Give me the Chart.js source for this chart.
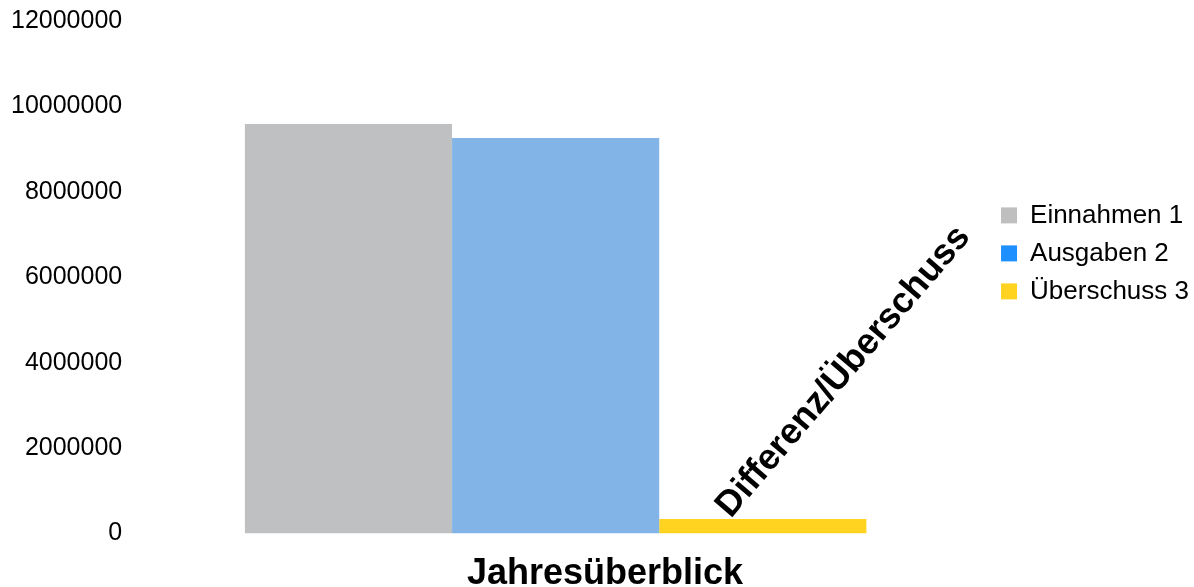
<!DOCTYPE html>
<html>
<head>
<meta charset="utf-8">
<script src="https://cdn.jsdelivr.net/npm/chart.js@4.4.1/dist/chart.umd.min.js"></script>
<style>
  html, body { margin: 0; padding: 0; background: #fff; }
  #wrap { width: 1194px; height: 587px; }
</style>
</head>
<body>
<div id="wrap"><canvas id="jahresChart"></canvas></div>
<script>
const categories = ["Jahresüberblick"];
const seriesNames = ["Einnahmen 1", "Ausgaben 2", "Überschuss 3"];
const einnahmen = [9590000];
const ausgaben = [9260000];
const ueberschuss = [340000];
const yMin = 0;
const yMax = 12000000;
const yStep = 2000000;
const diffText = "Differenz/Überschuss";

const barColors = ["#bfc0c2", "#83b4e8", "#ffd320"];
const legendColors = ["#bfbfbf", "#1e8fff", "#ffd320"];

Chart.defaults.font.family = '"Liberation Sans", Arial, sans-serif';
Chart.defaults.color = "#000";

// rotated label sitting on the surplus bar
const diffLabel = {
  id: "diffLabel",
  afterDatasetsDraw(chart) {
    const bar = chart.getDatasetMeta(2).data[0];
    if (!bar) return;
    const c = chart.ctx;
    c.save();
    c.translate(bar.x - 32, bar.y);
    c.rotate((-49.5 * Math.PI) / 180);
    c.font = 'bold 36px "Liberation Sans", Arial, sans-serif';
    c.fillStyle = "#000";
    c.textAlign = "left";
    c.textBaseline = "alphabetic";
    c.fillText(diffText, 0, 0);
    c.restore();
  },
};

const ctx = document.getElementById("jahresChart").getContext("2d");

new Chart(ctx, {
  type: "bar",
  data: {
    labels: categories,
    datasets: [
      { label: seriesNames[0], data: einnahmen, backgroundColor: barColors[0] },
      { label: seriesNames[1], data: ausgaben, backgroundColor: barColors[1] },
      { label: seriesNames[2], data: ueberschuss, backgroundColor: barColors[2] },
    ],
  },
  options: {
    responsive: true,
    maintainAspectRatio: false,
    animation: false,
    datasets: {
      bar: { categoryPercentage: 0.717, barPercentage: 1.0, borderWidth: 0 },
    },
    layout: { padding: { left: 11, right: -5, top: 21, bottom: 0 } },
    plugins: {
      legend: {
        position: "right",
        align: "start",
        title: { display: true, text: "", padding: { top: 0, bottom: 155 } },
        labels: {
          boxWidth: 16,
          boxHeight: 16,
          padding: 12,
          color: "#000",
          font: { size: 26 },
          generateLabels: (chart) =>
            chart.data.datasets.map((ds, i) => ({
              text: ds.label,
              fillStyle: legendColors[i],
              strokeStyle: legendColors[i],
              lineWidth: 0,
              hidden: false,
              datasetIndex: i,
            })),
        },
      },
      title: {
        display: true,
        text: categories[0],
        position: "bottom",
        color: "#000",
        font: { size: 36, weight: "bold", lineHeight: 1 },
        padding: { top: 22.5, bottom: -5 },
      },
      tooltip: { enabled: false },
    },
    scales: {
      x: { display: false },
      y: {
        min: yMin,
        max: yMax,
        grid: { display: false, drawTicks: false },
        border: { display: false },
        ticks: {
          stepSize: yStep,
          padding: 0,
          color: "#000",
          font: { size: 25 },
          callback: (v) => String(v),
        },
      },
    },
  },
  plugins: [diffLabel],
});
</script>
</body>
</html>
